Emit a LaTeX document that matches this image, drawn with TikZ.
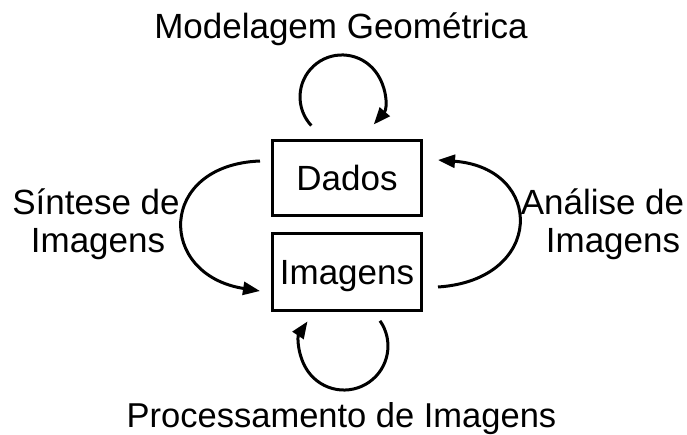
\documentclass[tikz,border=0pt]{standalone}
\usepackage{fontspec}
\setmainfont{Liberation Sans}
\usetikzlibrary{arrows.meta}
\begin{document}
\begin{tikzpicture}[x=1pt,y=-1pt,
  lbl/.style={font=\fontsize{35}{40}\selectfont, inner sep=0pt, anchor=base},
  boxnode/.style={draw, line width=3pt, minimum width=149pt, inner sep=0pt,
    font=\fontsize{35}{40}\selectfont, text height=25pt, text depth=0pt},
  conn/.style={line width=3pt, -{Triangle[length=17pt,width=13pt]}}]
\useasboundingbox (0,0) rectangle (687,435);
% boxes
\node[boxnode, minimum height=75pt] (dados) at (347,178.5) {Dados};
\node[boxnode, minimum height=76pt] (imagens) at (347,272) {Imagens};
% labels
\node[lbl] (modelagem) at (341,38.5) {Modelagem Geométrica};
\node[lbl, font=\fontsize{34.5}{40}\selectfont] (processamento) at (341.5,427.3) {Processamento de Imagens};
\node[lbl] (sintese1) at (96,215) {Síntese de};
\node[lbl] (sintese2) at (98,253) {Imagens};
\node[lbl] (analise1) at (602.5,215) {Análise de};
\node[lbl] (analise2) at (613,253) {Imagens};
% connector end points
\coordinate (topstart) at (311.3,125.6);
\coordinate (botstart) at (380,320.8);
\coordinate (leftstart) at (260,161);
\coordinate (leftend) at (260,291);
\coordinate (rightstart) at (438,287);
\coordinate (rightend) at (438,160);
% loops
\draw[conn] (topstart) arc[start angle=223, end angle=-41, radius=42pt];
\draw[conn] (botstart) arc[start angle=35, end angle=-214, radius=44pt];
% side arcs
\draw[conn] (leftstart) .. controls (157,165) and (157,275) .. (leftend);
\draw[conn] (rightstart) .. controls (545,280) and (545,168) .. (rightend);
\end{tikzpicture}
\end{document}
